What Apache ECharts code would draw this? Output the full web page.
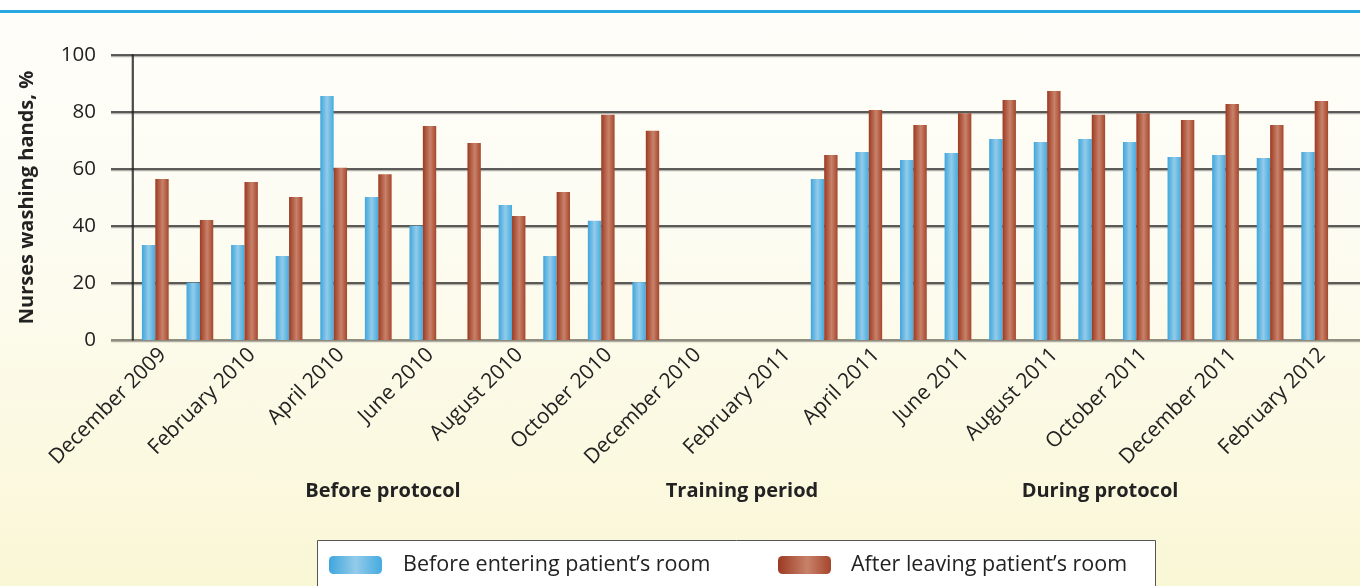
<!DOCTYPE html>
<html>
<head>
<meta charset="utf-8">
<script src="https://cdn.jsdelivr.net/npm/echarts@6/dist/echarts.min.js"></script>
<style>
  html, body { margin: 0; padding: 0; }
  #chart {
    width: 1360px; height: 586px;
    background: linear-gradient(to bottom, #ffffff 0, #ffffff 10px, #29a9e1 10px, #29a9e1 13px, #fefdf9 13px, #fdfcf2 40%, #faf7d6 100%);
  }
</style>
</head>
<body>
<div id="chart"></div>
<script>
const months = [
  'December 2009', 'January 2010', 'February 2010', 'March 2010', 'April 2010', 'May 2010',
  'June 2010', 'July 2010', 'August 2010', 'September 2010', 'October 2010', 'November 2010',
  'December 2010', 'January 2011', 'February 2011', 'March 2011', 'April 2011', 'May 2011',
  'June 2011', 'July 2011', 'August 2011', 'September 2011', 'October 2011', 'November 2011',
  'December 2011', 'January 2012', 'February 2012'
]
const beforeEntering = [
  33.3, 20.1, 33.3, 29.5, 85.6, 50.2, 40.1, null, 47.4, 29.5, 41.8, 20.3,
  null, null, null, 56.5, 66.0, 63.2, 65.6, 70.5, 69.5, 70.5, 69.5, 64.2,
  64.9, 63.9, 66.0
]
const afterLeaving = [
  56.5, 42.1, 55.4, 50.2, 60.4, 58.2, 75.1, 69.1, 43.5, 51.9, 79.0, 73.4,
  null, null, null, 64.9, 80.7, 75.4, 79.6, 84.2, 87.4, 79.0, 79.6, 77.2,
  82.8, 75.4, 83.9
]
const yTicks = [0, 20, 40, 60, 80, 100]
const periods = ['Before protocol', 'Training period', 'During protocol']
const seriesNames = ['Before entering patient\u2019s room', 'After leaving patient\u2019s room']

const font = '"Open Sans", "Noto Sans", sans-serif'
const blueFill = new echarts.graphic.LinearGradient(0, 0, 1, 0, [
  { offset: 0, color: '#3ea6dc' },
  { offset: 0.5, color: '#93cbea' },
  { offset: 1, color: '#45abdf' }
])
const redFill = new echarts.graphic.LinearGradient(0, 0, 1, 0, [
  { offset: 0, color: '#9c3a22' },
  { offset: 0.55, color: '#c8826a' },
  { offset: 1, color: '#a5462c' }
])

const chart = echarts.init(document.getElementById('chart'))

// period captions under the month labels
const periodX = [383, 742, 1100]
const periodText = periods.map((p, i) => ({
  type: 'text', x: periodX[i], y: 491,
  style: { text: p, font: 'bold 20px ' + font, fill: '#222', align: 'center', verticalAlign: 'middle' }
}))

chart.setOption({
  animation: false,
  textStyle: { fontFamily: font },
  grid: [
    { left: 133, right: 23, top: 55, bottom: 246 },
    { left: 111, right: 0, top: 55, bottom: 246 }
  ],
  legend: [
    {
      data: [seriesNames[0]], left: 329, top: 554, padding: 0, itemWidth: 53, itemHeight: 18,
      textStyle: { fontSize: 21.5, color: '#222', padding: [0, 0, 0, 16], fontFamily: font }
    },
    {
      data: [seriesNames[1]], left: 778, top: 554, padding: 0, itemWidth: 53, itemHeight: 18,
      textStyle: { fontSize: 21.5, color: '#222', padding: [0, 0, 0, 15], fontFamily: font }
    }
  ],
  xAxis: [
    {
      type: 'category', gridIndex: 0, data: months,
      axisLine: { show: false }, axisTick: { show: false },
      axisLabel: {
        interval: 1, rotate: 45, margin: 4, verticalAlign: 'top',
        fontSize: 21, color: '#222', fontFamily: font
      }
    },
    { type: 'category', gridIndex: 1, data: months, show: false }
  ],
  yAxis: [
    {
      type: 'value', gridIndex: 0, min: 0, max: 100, interval: 20,
      name: 'Nurses washing hands, %', nameLocation: 'middle', nameGap: 96,
      nameTextStyle: { fontSize: 20, fontWeight: 'bold', color: '#222', fontFamily: font },
      axisLine: { show: true, lineStyle: { color: '#222', width: 1.5, shadowColor: 'rgba(0,0,0,0.3)', shadowOffsetX: -1 } },
      axisTick: { show: false },
      axisLabel: {
        margin: 37, fontSize: 20.5, color: '#222', fontFamily: font,
        formatter: v => yTicks.includes(v) ? String(v) : ''
      },
      splitLine: { show: false }
    },
    {
      type: 'value', gridIndex: 1, min: 0, max: 100, interval: 20,
      axisLine: { show: false }, axisTick: { show: false }, axisLabel: { show: false },
      splitLine: {
        show: true,
        lineStyle: {
          color: ['#6e6b5f', '#262626', '#262626', '#262626', '#262626', '#262626'],
          width: 1.5, shadowColor: 'rgba(0,0,0,0.3)', shadowOffsetY: 1.5
        }
      }
    }
  ],
  series: [
    {
      name: seriesNames[0], type: 'bar', xAxisIndex: 0, yAxisIndex: 0,
      data: beforeEntering, barGap: '0%', barCategoryGap: '40%',
      itemStyle: { color: blueFill }
    },
    {
      name: seriesNames[1], type: 'bar', xAxisIndex: 0, yAxisIndex: 0,
      data: afterLeaving, barGap: '0%', barCategoryGap: '40%',
      itemStyle: { color: redFill }
    }
  ],
  graphic: [
    {
      type: 'rect', z: -1,
      shape: { x: 317.5, y: 540.5, width: 838, height: 60 },
      style: { fill: '#ffffff', stroke: '#555', lineWidth: 1 }
    }
  ].concat(periodText)
})
</script>
</body>
</html>
